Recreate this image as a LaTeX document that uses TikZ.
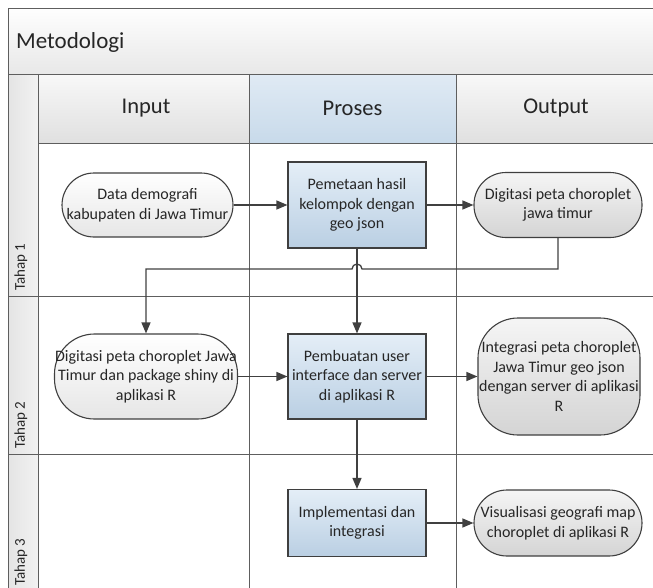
\documentclass[tikz,border=0pt]{standalone}
\usepackage{fontspec}
\setmainfont{Carlito}
\usetikzlibrary{arrows.meta,calc}
\definecolor{linec}{HTML}{5E5E5E}
\definecolor{boxline}{HTML}{3F3F3F}
\definecolor{arrc}{HTML}{404040}
\definecolor{txt}{HTML}{262626}
\definecolor{bandtop}{HTML}{FEFEFE}
\definecolor{bandbot}{HTML}{E8E8E8}
\definecolor{hdtop}{HTML}{F8F8F8}
\definecolor{hdbot}{HTML}{E0E0E0}
\definecolor{hbtop}{HTML}{E0EAF4}
\definecolor{hbbot}{HTML}{C8DAEA}
\definecolor{ptop}{HTML}{E4EEF7}
\definecolor{pbot}{HTML}{BACFE3}
\definecolor{itop}{HTML}{FFFFFF}
\definecolor{ibot}{HTML}{E6E6E6}
\definecolor{otop}{HTML}{F5F5F5}
\definecolor{obot}{HTML}{D4D4D4}
\definecolor{lanel}{HTML}{E4E4E4}
\definecolor{laner}{HTML}{F2F2F2}
\newcommand{\nodefont}{\fontsize{16}{19.5}\selectfont}
\tikzset{
  x=1pt, y=1pt,
  grid/.style={draw=linec, line width=1pt},
  procbox/.style={draw=boxline, line width=1.1pt, top color=ptop, bottom color=pbot,
    align=center, inner sep=0pt, font=\nodefont, text=txt, minimum width=138pt},
  inbox/.style={draw=boxline, line width=1.1pt, top color=itop, bottom color=ibot,
    align=center, inner sep=0pt, font=\nodefont, text=txt},
  outbox/.style={draw=boxline, line width=1.1pt, top color=otop, bottom color=obot,
    align=center, inner sep=0pt, font=\nodefont, text=txt},
  arr/.style={draw=arrc, line width=1.3pt, -{Triangle[length=11pt,width=9pt]}},
  hdr/.style={font=\fontsize{22.5}{26}\selectfont, text=txt},
  lanelbl/.style={font=\fontsize{15}{18}\selectfont, text=txt, rotate=90, anchor=west, inner sep=0pt},
}
\begin{document}
\begin{tikzpicture}
\useasboundingbox (0,0) rectangle (653,-587);
\clip (0,0) rectangle (653,-587);
% title band
\shade[top color=bandtop, bottom color=bandbot] (8,-8) rectangle (670,-74);
% header cells
\shade[top color=hdtop, bottom color=hdbot] (38,-74) rectangle (249,-143);
\shade[top color=hbtop, bottom color=hbbot] (249,-74) rectangle (456,-143);
\shade[top color=hdtop, bottom color=hdbot] (456,-74) rectangle (670,-143);
% lane label column
\shade[left color=lanel, right color=laner] (8,-74) rectangle (38,-600);
% grid lines
\draw[grid] (670,-8) -- (8,-8) -- (8,-600);
\draw[grid] (8,-74) -- (670,-74);
\draw[grid] (38,-143) -- (670,-143);
\draw[grid] (8,-296) -- (670,-296);
\draw[grid] (8,-454) -- (670,-454);
\draw[grid] (38,-74) -- (38,-600);
\draw[grid] (249,-74) -- (249,-600);
\draw[grid] (456,-74) -- (456,-600);
% titles
\node[anchor=west, font=\fontsize{23}{27}\selectfont, text=txt, inner sep=0pt] (title) at (16,-42) {Metodologi};
\node[hdr] (hin) at (146,-108.5) {Input};
\node[hdr] (hpr) at (352.5,-108.5) {Proses};
\node[hdr] (hout) at (556,-108.5) {Output};
% lane labels
\node[lanelbl] (t1) at (21,-291) {Tahap 1};
\node[lanelbl] (t2) at (21,-449) {Tahap 2};
\node[lanelbl] (t3) at (21,-586) {Tahap 3};
% row 1
\node[inbox, minimum width=171pt, minimum height=64pt, rounded corners=32pt] (in1) at (147.5,-205)
  {Data demografi\\kabupaten di Jawa Timur};
\node[procbox, minimum height=86pt] (p1) at (357,-205)
  {Pemetaan hasil\\kelompok dengan\\geo json};
\node[outbox, minimum width=168pt, minimum height=65pt, rounded corners=32pt] (out1) at (558,-205)
  {Digitasi peta choroplet\\jawa timur};
% row 2
\node[inbox, minimum width=183pt, minimum height=85pt, rounded corners=40pt] (in2) at (146,-376.5)
  {Digitasi peta choroplet Jawa\\Timur dan package shiny di\\aplikasi R};
\node[procbox, minimum height=85pt] (p2) at (357,-376.5)
  {Pembuatan user\\interface dan server\\di aplikasi R};
\node[outbox, minimum width=162pt, minimum height=117pt, rounded corners=40pt] (out2) at (559,-376.5)
  {Integrasi peta choroplet\\Jawa Timur geo json\\dengan server di aplikasi\\R};
% row 3
\node[procbox, minimum height=67pt] (p3) at (357,-523)
  {Implementasi dan\\integrasi};
\node[outbox, minimum width=168pt, minimum height=66pt, rounded corners=33pt] (out3) at (558,-523)
  {Visualisasi geografi map\\choroplet di aplikasi R};
% connectors
\coordinate (j) at (0,-269);
\draw[arr] (in1.east) -- (p1.west);
\draw[arr] (p1.east) -- (out1.west);
\draw[arr] (p1.south) -- (p2.north);
\draw[arr] (out1.south) -- (out1.south |- j) -- ($(p1.south |- j)+(5,0)$)
  arc[start angle=0, end angle=180, radius=5] -- (in2.north |- j) -- (in2.north);
\draw[arr] (in2.east) -- (p2.west);
\draw[arr] (p2.east) -- (out2.west);
\draw[arr] (p2.south) -- (p3.north);
\draw[arr] (p3.east) -- (out3.west);
\end{tikzpicture}
\end{document}
